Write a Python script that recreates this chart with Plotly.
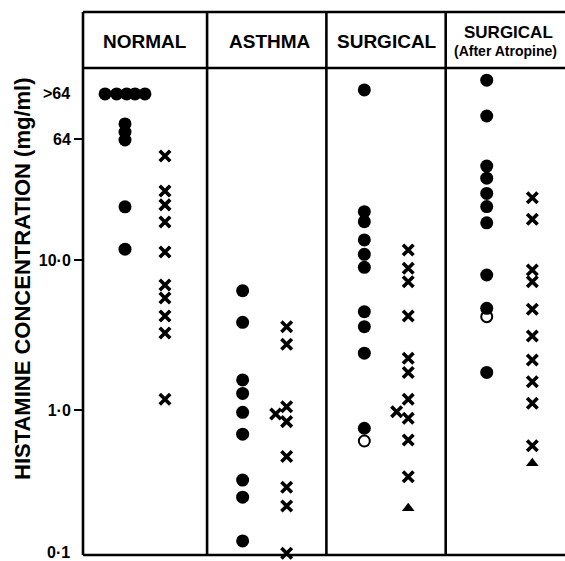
import math
import plotly.graph_objects as go

# ---- data (values in mg/ml; >64 plotted at 128) ----
groups = ["NORMAL", "ASTHMA", "SURGICAL", "SURGICAL"]
group_sub = ["", "", "", "(After Atropine)"]

normal_dots = [128, 128, 128, 128, 128, 80.7, 71.3, 63.1, 22.6, 11.8]
normal_dots_jitter = [-0.167, -0.07, 0.014, 0.084, 0.167, 0, 0, 0, 0, 0]
normal_crosses = [49.4, 28.8, 23.3, 17.9, 11.3, 6.8, 5.58, 4.23, 3.26, 1.18]
normal_crosses_jitter = [0] * 10

asthma_dots = [6.24, 3.84, 1.585, 1.29, 0.965, 0.69, 0.341, 0.262, 0.134]
asthma_crosses = [3.59, 2.74, 1.05, 0.94, 0.836, 0.489, 0.305, 0.229, 0.111]
asthma_crosses_jitter = [0, 0, 0, -0.092, 0, 0, 0, 0, 0]

surgical_dots = [136, 21.0, 18.0, 13.6, 10.9, 8.93, 4.52, 3.59, 2.39, 0.755]
surgical_open = [0.621]
surgical_crosses = [11.66, 8.81, 7.17, 4.23, 2.21, 1.78, 1.18, 0.974, 0.88, 0.631, 0.359]
surgical_crosses_jitter = [0, 0, 0, 0, 0, 0, 0, -0.097, 0, 0, 0]
surgical_triangle = [0.221]

atropine_dots = [158, 91.2, 42.3, 35.1, 27.8, 22.7, 17.7, 7.94, 4.76, 1.78]
atropine_open = [4.19]
atropine_crosses = [26.0, 18.7, 8.58, 7.17, 4.69, 3.11, 2.15, 1.54, 1.11, 0.578]
atropine_triangle = [0.441]

dot_pos = [0.312, 1.298, 2.318, 3.344]
cross_pos = [0.647, 1.667, 2.686, 3.726]

tick_vals = [1, 10, 64]
tick_text = ["1·0", "10·0", "64"]
over_value = 128
over_label = ">64"
bottom_label = "0·1"

# ---- figure ----
fig = go.Figure()
BLACK = "black"


def add_dots(pos, vals, jitter=None):
    jitter = jitter or [0] * len(vals)
    fig.add_trace(go.Scatter(x=[pos + j for j in jitter], y=vals, mode="markers",
                             marker=dict(symbol="circle", size=13, color=BLACK),
                             showlegend=False, cliponaxis=False, hoverinfo="skip"))


def add_crosses(pos, vals, jitter=None):
    jitter = jitter or [0] * len(vals)
    fig.add_trace(go.Scatter(x=[pos + j for j in jitter], y=vals, mode="markers",
                             marker=dict(symbol="x-thin", size=10.5, color=BLACK,
                                         line=dict(width=3.6, color=BLACK)),
                             showlegend=False, cliponaxis=False, hoverinfo="skip"))


def add_open(pos, vals):
    fig.add_trace(go.Scatter(x=[pos] * len(vals), y=vals, mode="markers",
                             marker=dict(symbol="circle-open", size=11, color=BLACK,
                                         line=dict(width=2, color=BLACK)),
                             showlegend=False, hoverinfo="skip"))


def add_tri(pos, vals):
    fig.add_trace(go.Scatter(x=[pos] * len(vals), y=vals, mode="markers",
                             marker=dict(symbol="triangle-up", size=11, color=BLACK),
                             showlegend=False, hoverinfo="skip"))


add_dots(dot_pos[0], normal_dots, normal_dots_jitter)
add_crosses(cross_pos[0], normal_crosses, normal_crosses_jitter)
add_dots(dot_pos[1], asthma_dots)
add_crosses(cross_pos[1], asthma_crosses, asthma_crosses_jitter)
add_dots(dot_pos[2], surgical_dots)
add_open(dot_pos[2], surgical_open)
add_crosses(cross_pos[2], surgical_crosses, surgical_crosses_jitter)
add_tri(cross_pos[2], surgical_triangle)
add_dots(dot_pos[3], atropine_dots)
add_open(dot_pos[3], atropine_open)
add_crosses(cross_pos[3], atropine_crosses)
add_tri(cross_pos[3], atropine_triangle)

L, T, B = 83, 68, 6
PLOT_W = 565 - L
PLOT_H = 561 - T - B
HEAD = 1 + 56 / PLOT_H
LW = 2.6

shapes = [
    dict(type="line", xref="paper", yref="paper", x0=0, x1=1, y0=1, y1=1, line=dict(color=BLACK, width=LW)),
    dict(type="line", xref="paper", yref="paper", x0=0, x1=1, y0=HEAD, y1=HEAD, line=dict(color=BLACK, width=LW)),
    dict(type="line", xref="paper", yref="paper", x0=0, x1=1, y0=0, y1=0, line=dict(color=BLACK, width=LW)),
    dict(type="line", xref="paper", yref="paper", x0=0, x1=0, y0=0, y1=HEAD, line=dict(color=BLACK, width=LW)),
]
for k in (1, 2, 3):
    shapes.append(dict(type="line", xref="x", yref="paper", x0=k, x1=k, y0=0, y1=HEAD,
                       line=dict(color=BLACK, width=LW)))

FONT = "Liberation Sans, Arial, sans-serif"


def py(ypix):
    return (561 - B - ypix) / PLOT_H


annotations = []
head_x = [0.48, 1.527, 2.51, 3.53]
for k, (g, sub) in enumerate(zip(groups, group_sub)):
    if sub:
        annotations.append(dict(x=head_x[k], y=py(33), xref="x", yref="paper", text="<b>%s</b>" % g,
                                xanchor="center", yanchor="middle",
                                showarrow=False, font=dict(family=FONT, size=17, color=BLACK)))
        annotations.append(dict(x=3.50, y=py(51), xref="x", yref="paper", text="<b>%s</b>" % sub,
                                xanchor="center", yanchor="middle",
                                showarrow=False, font=dict(family=FONT, size=14, color=BLACK)))
    else:
        annotations.append(dict(x=head_x[k], y=py(42), xref="x", yref="paper", text="<b>%s</b>" % g,
                                xanchor="center", yanchor="middle",
                                showarrow=False, font=dict(family=FONT, size=19, color=BLACK)))

TICK_FONT = dict(family=FONT, size=16, color=BLACK)
# extra tick labels (>64 and 0·1)
annotations.append(dict(x=-11 / PLOT_W, y=math.log10(over_value), xref="paper", yref="y",
                        text="<b>%s</b>" % over_label.replace(">", "&gt;"), xanchor="right", yanchor="middle",
                        showarrow=False, font=TICK_FONT))
annotations.append(dict(x=-11 / PLOT_W, y=py(552), xref="paper", yref="paper", text="<b>%s</b>" % bottom_label,
                        xanchor="right", yanchor="middle", showarrow=False, font=TICK_FONT))
annotations.append(dict(x=(22 - L) / PLOT_W, y=py(279), xref="paper", yref="paper", xanchor="center",
                        yanchor="middle", text="<b>HISTAMINE CONCENTRATION (mg/ml)</b>", textangle=-90,
                        showarrow=False, font=dict(family=FONT, size=22, color=BLACK)))

fig.update_layout(
    width=565, height=561,
    margin=dict(l=L, r=0, t=T, b=B),
    paper_bgcolor="white", plot_bgcolor="white",
    shapes=shapes, annotations=annotations,
    xaxis=dict(range=[-0.04, 4], showgrid=False, zeroline=False, showticklabels=False, ticks=""),
    yaxis=dict(type="log", range=[-0.967, 2.28], showgrid=False, zeroline=False,
               tickvals=tick_vals, ticktext=["<b>%s</b>" % t for t in tick_text],
               ticks="outside", ticklen=8, tickwidth=2, tickcolor=BLACK,
               tickfont=TICK_FONT, showline=False),
)

fig.write_html("out.html", config={"displayModeBar": False},
               post_script="document.body.style.margin='0';document.body.style.padding='0';"
                           "document.body.style.overflow='hidden';")
